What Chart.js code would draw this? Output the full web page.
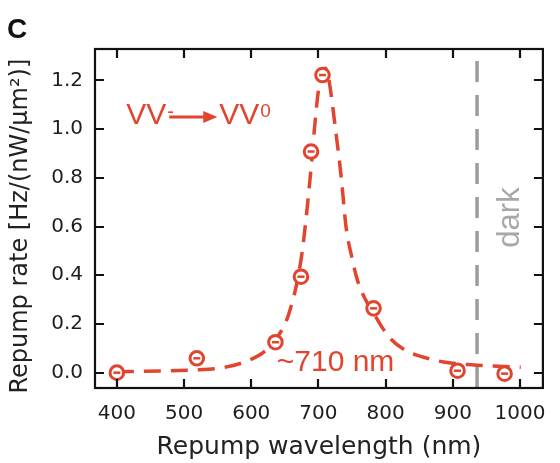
<!DOCTYPE html>
<html><head><meta charset="utf-8">
<script src="https://cdn.jsdelivr.net/npm/chart.js@4.4.1/dist/chart.umd.min.js"></script>
<style>html,body{margin:0;padding:0;background:#fff}#wrap{width:560px;height:463px;position:relative}</style>
</head><body><div id="wrap"><canvas id="c" width="560" height="463"></canvas></div>
<script>
// measured points
const wavelengths = [400, 519, 636, 674, 689, 706, 782, 907, 977];
const repumpRates = [0.0, 0.059, 0.125, 0.394, 0.908, 1.222, 0.264, 0.008, -0.004];
// dashed fit curve
const fitWavelengths = [400, 465, 513, 552, 591, 625, 651, 659, 668, 676, 683, 688, 695, 700, 705, 710, 715, 719, 724, 734, 741, 750, 758, 770, 782, 795, 807, 833, 845, 884, 928, 1001];
const fitRates = [0.004, 0.007, 0.011, 0.018, 0.045, 0.10, 0.205, 0.27, 0.37, 0.50, 0.67, 0.81, 1.03, 1.16, 1.23, 1.25, 1.21, 1.14, 1.03, 0.80, 0.60, 0.47, 0.38, 0.30, 0.245, 0.185, 0.14, 0.086, 0.073, 0.045, 0.032, 0.022];
const xTicks = [400, 500, 600, 700, 800, 900, 1000];
const yTicks = [0.0, 0.2, 0.4, 0.6, 0.8, 1.0, 1.2];
const darkWavelength = 936;
const darkSpan = [-0.063, 1.28];

const RED = '#e1442f';
const GRAY = '#9c9c9c';
const TICKFONT = {family: '"DejaVu Sans"', size: 20};
const XTITLEFONT = {family: '"DejaVu Sans"', size: 25};
const YTITLEFONT = {family: '"DejaVu Sans"', size: 24};

const pts = wavelengths.map((w, i) => ({x: w, y: repumpRates[i]}));
const fit = fitWavelengths.map((w, i) => ({x: w, y: fitRates[i]}));
const dark = darkSpan.map(v => ({x: darkWavelength, y: v}));

const annot = {
  id: 'annot',
  afterDatasetsDraw(chart) {
    const {ctx, chartArea: a, scales: {x, y}} = chart;
    ctx.save();
    // frame + inward ticks
    ctx.strokeStyle = '#111'; ctx.lineWidth = 2.2;
    ctx.strokeRect(a.left, a.top, a.right - a.left, a.bottom - a.top);
    ctx.beginPath();
    const L = 9;
    x.ticks.forEach(t => { const p = Math.round(x.getPixelForValue(t.value));
      ctx.moveTo(p, a.bottom); ctx.lineTo(p, a.bottom - L);
      ctx.moveTo(p, a.top); ctx.lineTo(p, a.top + L); });
    y.ticks.forEach(t => { const p = Math.round(y.getPixelForValue(t.value));
      ctx.moveTo(a.left, p); ctx.lineTo(a.left + L, p);
      ctx.moveTo(a.right, p); ctx.lineTo(a.right - L, p); });
    ctx.stroke();

    // VV- -> VV0
    ctx.fillStyle = RED; ctx.strokeStyle = RED;
    ctx.textAlign = 'left'; ctx.textBaseline = 'alphabetic';
    const ax = x.getPixelForValue(414), by = y.getPixelForValue(1.021);
    ctx.font = '30px "Liberation Sans"';
    const w1 = ctx.measureText('VV').width;
    ctx.fillText('VV', ax, by);
    ctx.font = '20px "Liberation Sans"';
    ctx.fillText('-', ax + w1 + 1, by - 6);
    ctx.lineWidth = 3.2;
    ctx.beginPath(); ctx.moveTo(ax + w1 + 3, by - 7); ctx.lineTo(ax + w1 + 40, by - 7); ctx.stroke();
    ctx.beginPath(); ctx.moveTo(ax + w1 + 51, by - 7); ctx.lineTo(ax + w1 + 37, by - 13); ctx.lineTo(ax + w1 + 37, by - 1); ctx.closePath(); ctx.fill();
    ctx.font = '30px "Liberation Sans"';
    const x2 = ax + 93;
    ctx.fillText('VV', x2, by);
    const w2 = ctx.measureText('VV').width;
    ctx.font = '19px "Liberation Sans"';
    ctx.fillText('0', x2 + w2 + 1, by - 7);

    // ~710 nm
    ctx.font = '30px "Liberation Sans"';
    ctx.fillText('~710 nm', x.getPixelForValue(638), y.getPixelForValue(0.008));

    // dark
    ctx.fillStyle = '#a8a8a8';
    ctx.font = '31px "Liberation Sans"';
    ctx.translate(x.getPixelForValue(1000) - 1, y.getPixelForValue(0.637));
    ctx.rotate(-Math.PI / 2);
    ctx.textAlign = 'center';
    ctx.fillText('dark', 0, 0);
    ctx.restore();

    ctx.save();
    ctx.fillStyle = '#111';
    ctx.font = 'bold 28px "Liberation Sans"';
    ctx.textAlign = 'left';
    ctx.fillText('C', 7, 38);
    ctx.restore();
  }
};

new Chart(document.getElementById('c'), {
  type: 'scatter',
  data: {datasets: [
    {data: pts, pointStyle: 'line', pointRadius: 3.5, borderColor: RED, pointBorderWidth: 2.5, showLine: false, order: 1},
    {data: pts, pointStyle: 'circle', pointRadius: 6.8, pointBorderWidth: 3, borderColor: RED, backgroundColor: '#fff', showLine: false, order: 2},
    {data: fit, showLine: true, pointRadius: 0, borderColor: RED, borderWidth: 3.5, borderDash: [17, 10], cubicInterpolationMode: 'monotone', order: 3},
    {data: dark, showLine: true, pointRadius: 0, borderColor: GRAY, borderWidth: 3.5, borderDash: [21, 13], order: 4}
  ]},
  options: {
    responsive: false, animation: false, devicePixelRatio: 1,
    layout: {padding: {left: 0, right: 7, top: 49, bottom: 0}},
    plugins: {legend: {display: false}, tooltip: {enabled: false}},
    scales: {
      x: {type: 'linear', min: 367.5, max: 1034,
        afterBuildTicks: s => { s.ticks = xTicks.map(v => ({value: v})); },
        afterFit: s => { s.height = 75; },
        grid: {display: false, drawTicks: false}, border: {display: false},
        ticks: {font: TICKFONT, color: '#1e1e1e', padding: 14, maxRotation: 0, callback: v => String(v)},
        title: {display: true, text: 'Repump wavelength (nm)', font: XTITLEFONT, color: '#222', padding: {top: 0, bottom: 1}}
      },
      y: {type: 'linear', min: -0.063, max: 1.329,
        afterBuildTicks: s => { s.ticks = yTicks.map(v => ({value: v})); },
        afterFit: s => { s.width = 95; },
        grid: {display: false, drawTicks: false}, border: {display: false},
        ticks: {font: TICKFONT, color: '#1e1e1e', padding: 12, callback: v => Number(v).toFixed(1)},
        title: {display: true, text: 'Repump rate [Hz/(nW/μm²)]  ', font: YTITLEFONT, color: '#222', padding: {top: 6, bottom: 0}}
      }
    }
  },
  plugins: [annot]
});
</script></body></html>
